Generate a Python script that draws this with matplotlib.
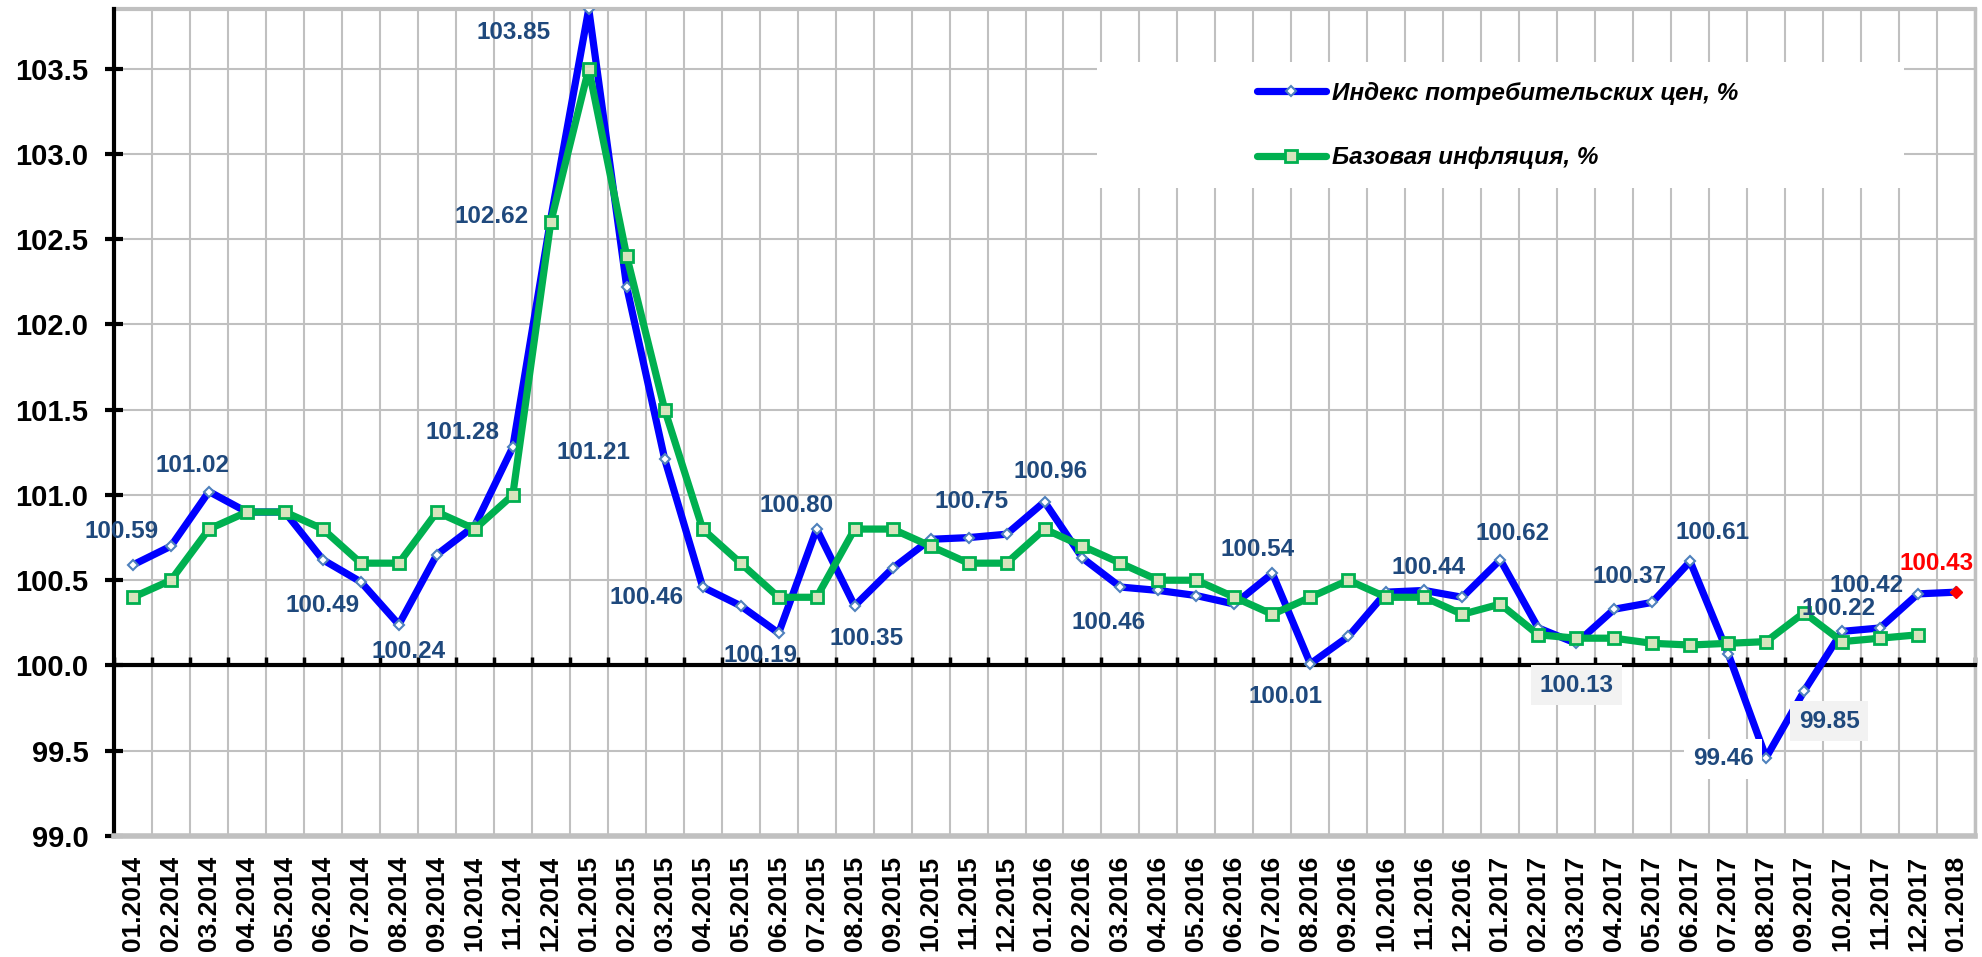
import numpy as np
import matplotlib
matplotlib.use("Agg")
import matplotlib.pyplot as plt
from matplotlib.patches import Rectangle

plt.rcParams['font.family'] = ['Liberation Sans', 'DejaVu Sans']

# %% DATA
months = [f"{m:02d}.{y}" for y in (2014, 2015, 2016, 2017) for m in range(1, 13)] + ["01.2018"]

cpi = [100.59, 100.70, 101.02, 100.90, 100.90, 100.62, 100.49, 100.24, 100.65, 100.82, 101.28, 102.62,
       103.85, 102.22, 101.21, 100.46, 100.35, 100.19, 100.80, 100.35, 100.57, 100.74, 100.75, 100.77,
       100.96, 100.63, 100.46, 100.44, 100.41, 100.36, 100.54, 100.01, 100.17, 100.43, 100.44, 100.40,
       100.62, 100.22, 100.13, 100.33, 100.37, 100.61, 100.07, 99.46, 99.85, 100.20, 100.22, 100.42,
       100.43]

core = [100.4, 100.5, 100.8, 100.9, 100.9, 100.8, 100.6, 100.6, 100.9, 100.8, 101.0, 102.6,
        103.5, 102.4, 101.5, 100.8, 100.6, 100.4, 100.4, 100.8, 100.8, 100.7, 100.6, 100.6,
        100.8, 100.7, 100.6, 100.5, 100.5, 100.4, 100.3, 100.4, 100.5, 100.4, 100.4, 100.3,
        100.36, 100.18, 100.16, 100.16, 100.13, 100.12, 100.13, 100.14, 100.31, 100.14, 100.16, 100.18]

cpi_name = "Индекс потребительских цен, %"
core_name = "Базовая инфляция, %"

# which CPI points carry a value label: index -> offset of label centre in pixels
label_pos = {0: (-11, 33), 2: (-16, 26), 6: (-38, -24), 7: (10, -27), 10: (-50, 15), 11: (-59, 2),
             12: (-75, -24), 14: (-71, 7), 15: (-56, -10), 17: (-18, -22), 18: (-20, 24), 19: (12, -33),
             22: (3, 36), 24: (6, 30), 26: (-12, -35), 30: (-15, 24), 31: (-25, -33), 34: (4, 23),
             36: (12, 26), 38: (0, -42), 40: (-23, 26), 41: (22, 29), 43: (-43, -1), 44: (25, -30),
             46: (-41, 19), 47: (-51, 8), 48: (-19, 29)}
label_box = {38: '#F2F2F2', 44: '#F2F2F2', 43: 'white'}

# %% PLOT
W, H = 1982, 957
fig = plt.figure(figsize=(W / 100, H / 100), dpi=100)
ax = fig.add_axes([114 / W, (H - 836) / H, (1975 - 114) / W, (836 - 9) / H])
grid_c = '#C0C0C0'

# spines first (moving a spine resets the ticks): top spine used as the 100 line
ax.spines['left'].set_linewidth(3)
ax.spines['top'].set_position(('data', 100))
ax.spines['top'].set_linewidth(3)
ax.spines['bottom'].set_color(grid_c)
ax.spines['bottom'].set_linewidth(4)
ax.spines['right'].set_color(grid_c)
ax.spines['right'].set_linewidth(2.5)

x = np.arange(len(months))

ax.plot(x, cpi, color='#0000FF', lw=5.2, marker='D', ms=5.5, mfc='white', mec='#4F81BD', mew=1.5,
        solid_joinstyle='round', solid_capstyle='round', zorder=3, label=cpi_name)
ax.plot(x[:len(core)], core, color='#00B050', lw=5.2, marker='s', ms=8.5, mfc='#D7E4BD', mec='#00B050',
        mew=2, solid_joinstyle='round', solid_capstyle='round', zorder=4, label=core_name)

# red marker for the last month
ax.plot(x[-1], cpi[-1], marker='D', ms=6, color='red', zorder=5)

for i, (dx, dy) in label_pos.items():
    col = 'red' if i == len(cpi) - 1 else '#1F497D'
    bbox = None
    if i in label_box:
        bbox = dict(boxstyle='square,pad=0.35', fc=label_box[i], ec='none')
    ax.annotate(f"{cpi[i]:.2f}", (x[i], cpi[i]), xytext=(dx, dy), textcoords='offset pixels',
                ha='center', va='center', fontsize=17.5, fontweight='bold', color=col,
                bbox=bbox, zorder=6)

ax.set_xlim(-0.5, len(months) - 0.5)
ax.set_ylim(99.0, 103.85)
yt = np.arange(99.0, 103.6, 0.5)
ax.set_yticks(yt)
ax.set_yticklabels([f"{v:.1f}" for v in yt], fontsize=21, fontweight='bold')

ax.set_xticks(x)
ax.set_xticklabels(months, rotation=90, fontsize=19, fontweight='bold', va='top')
ax.set_xticks(np.arange(-0.5, len(months), 1), minor=True)

ax.set_axisbelow(True)
ax.grid(True, which='minor', axis='x', color=grid_c, lw=1.5)
ax.grid(True, which='major', axis='y', color=grid_c, lw=1.5)
ax.axhline(ax.get_ylim()[1], color=grid_c, lw=3, clip_on=False, zorder=1)

ax.tick_params(axis='y', direction='inout', length=13, width=3, pad=12)
ax.tick_params(axis='x', which='major', length=0, pad=14)
ax.tick_params(axis='x', which='minor', top=True, bottom=False, direction='out', length=6, width=2.5)

# white area behind the legend
ax.add_patch(Rectangle((0.528, 0.784), 0.434, 0.152, transform=ax.transAxes, fc='white', ec='none', zorder=1))
ax.legend(loc='center left', bbox_to_anchor=(0.614, 0.859), frameon=False, borderaxespad=0, borderpad=0,
          handlelength=2.85, handletextpad=0.25, labelspacing=1.7,
          prop=dict(size=17.5, weight='bold', style='italic'))

fig.savefig("out.png", dpi=100)
